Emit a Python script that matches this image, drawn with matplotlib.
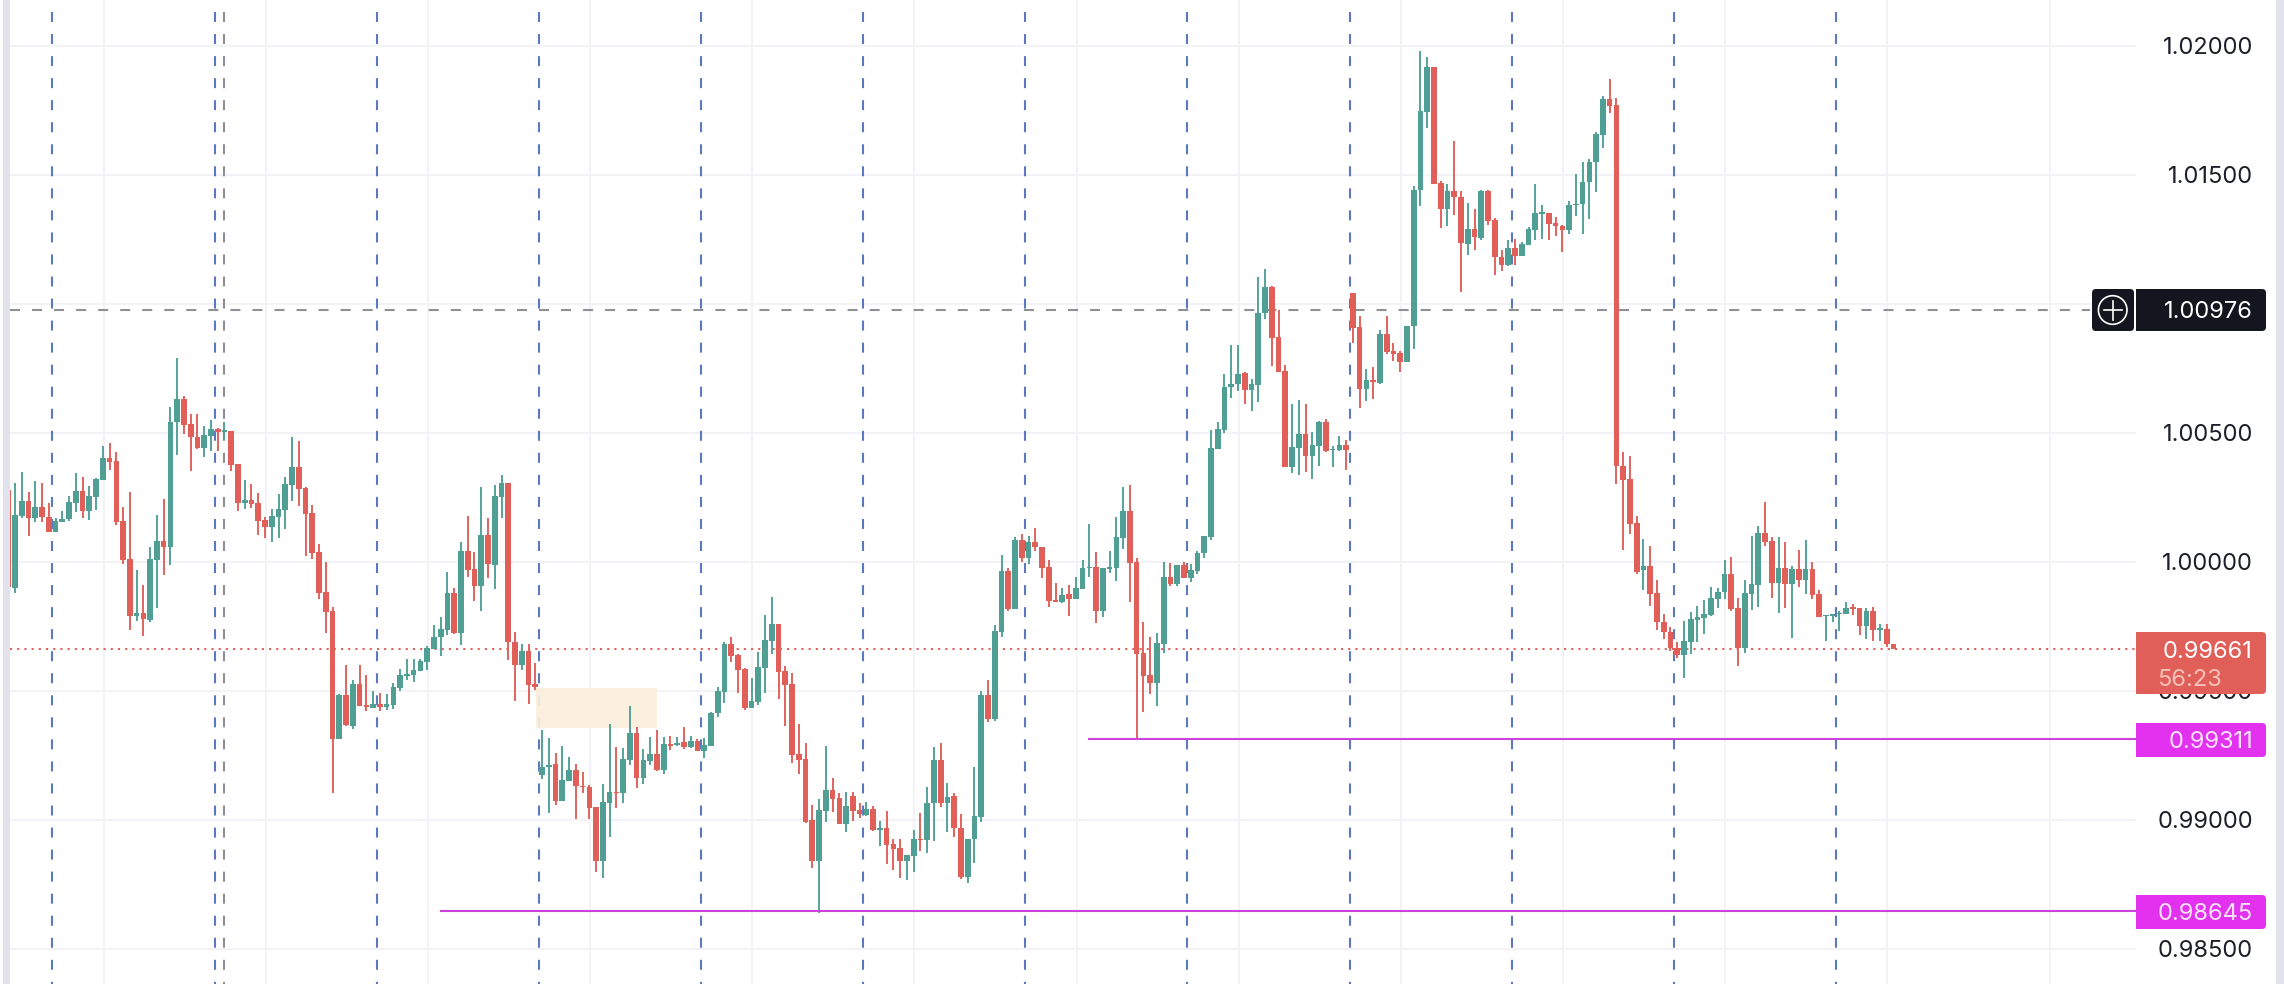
import numpy as np
import matplotlib
matplotlib.use("Agg")
import matplotlib.pyplot as plt
from matplotlib.patches import FancyBboxPatch, Rectangle, Circle
from matplotlib.transforms import Affine2D

W, H = 2284, 984

# Prices are stored in 1e-5 units (100000 = 1.00000)
highs = [
100282,100304,100349,100271,100311,100306,100226,100168,100198,100256,
100342,100327,100295,100323,100448,100459,100424,100211,100269,99968,
99910,100056,100181,100243,100598,100788,100641,100571,100571,100526,
100549,100517,100540,100506,100377,100317,100301,100265,100174,100203,
100262,100327,100485,100468,100291,100220,100068,99997,99826,99487,
99598,99541,99598,99561,99497,99490,99487,99528,99583,99621,
99621,99621,99673,99755,99784,99959,99897,100075,100177,100036,
100291,100168,100296,100336,100304,99726,99681,99681,99606,99348,
99317,99257,99286,99243,99216,99183,99134,99050,99138,99371,
99280,99276,99442,99360,99273,99319,99348,99319,99324,99322,
99359,99324,99311,99315,99419,99515,99690,99707,99642,99587,
99550,99649,99793,99862,99758,99597,99567,99371,99296,99057,
99079,99286,99160,99102,99109,99109,99063,99067,99053,98996,
99035,98925,98925,98863,98960,99025,99125,99280,99296,99141,
99102,99021,98863,99203,99499,99541,99755,100026,99975,100097,
100107,100099,100132,100058,100006,99916,99897,99910,99942,100006,
100145,100036,99975,100041,100172,100288,100296,100013,99765,99707,
99722,99999,99994,99987,99997,99990,100041,100099,100510,100540,
100727,100840,100840,100734,100707,101102,101133,101068,100975,100762,
100611,100627,100611,100504,100545,100553,100450,100487,100472,101043,
100952,100747,100753,100898,100952,100846,100817,100913,101455,101981,
101956,101917,101477,101465,101632,101438,101390,101368,101442,101442,
101332,101209,101248,101251,101240,101297,101465,101384,101353,101336,
101306,101398,101504,101549,101561,101665,101806,101871,101797,100424,
100408,100179,100088,100060,99928,99798,99746,99688,99770,99804,
99830,99853,99902,99897,100007,100020,99861,99931,100098,100140,
100232,100095,100096,100077,99984,100047,100085,99998,99889,99794,
99799,99808,99843,99837,99821,99819,99824,99757,99757,99682]

lows = [
99903,99880,100171,100101,100152,100152,100116,100116,100152,100158,
100194,100168,100162,100200,100318,100355,100142,99991,99735,99770,
99712,99767,99822,99948,99987,100413,100495,100351,100437,100407,
100430,100430,100472,100353,100198,100204,100208,100103,100090,100078,
100092,100127,100235,100216,100022,100010,99857,99725,99105,99314,
99364,99353,99442,99422,99432,99422,99426,99430,99500,99541,
99535,99578,99580,99660,99634,99716,99720,99677,99939,99848,
99809,99935,99894,100168,99619,99461,99580,99448,99503,99156,
99027,99057,99074,99151,99003,99105,99004,98798,98775,98934,
99044,99066,99212,99121,99138,99212,99190,99177,99270,99286,
99274,99276,99265,99239,99286,99399,99453,99612,99492,99425,
99434,99446,99492,99642,99468,99363,99218,99177,98986,98811,
98637,98992,99031,98983,98953,98995,99005,99016,98956,98899,
98828,98805,98775,98766,98798,98879,98872,98919,99050,98953,
98934,98769,98753,98833,98992,99380,99382,99709,99810,99817,
100000,99990,100043,99935,99826,99845,99841,99791,99855,99894,
99939,99761,99787,99955,99926,100049,99845,99309,99419,99487,
99442,99647,99906,99906,99937,99922,99952,100016,100084,100438,
100500,100636,100663,100612,100585,100620,100941,100758,100736,100366,
100345,100336,100349,100320,100371,100426,100366,100430,100355,100846,
100597,100623,100630,100689,100805,100779,100734,100775,100826,101377,
101680,101465,101292,101300,101342,101044,101187,101207,101248,101306,
101110,101125,101147,101151,101186,101229,101245,101252,101245,101264,
101199,101271,101341,101271,101329,101434,101605,101740,100302,100044,
100106,99954,99892,99829,99737,99702,99653,99628,99550,99644,
99687,99718,99791,99821,99856,99808,99594,99648,99811,99824,
100060,99860,99803,99819,99706,99902,99873,99856,99786,99693,
99767,99731,99799,99793,99716,99702,99693,99693,99669,99661]

opens = [
100278,99899,100177,100235,100169,100211,100174,100116,100154,100167,
100229,100273,100198,100252,100318,100402,100389,100156,100010,99791,
99800,99774,100006,100079,100058,100540,100629,100534,100485,100441,
100488,100513,100504,100506,100377,100229,100239,100227,100162,100136,
100174,100200,100298,100367,100287,100187,100036,99882,99809,99314,
99483,99364,99526,99444,99434,99447,99438,99444,99510,99557,
99561,99578,99612,99663,99709,99735,99877,99725,100041,99970,
99907,100103,99987,100252,100304,99690,99599,99655,99525,99173,
99205,99216,99074,99151,99192,99132,99125,99048,98841,99066,
99106,99105,99231,99335,99163,99226,99255,99192,99293,99288,
99301,99280,99304,99267,99286,99412,99495,99681,99638,99584,
99434,99456,99589,99693,99758,99576,99526,99253,99235,98999,
98841,99035,99115,99083,98983,99092,99036,99019,99040,98960,
98966,98906,98889,98841,98860,98925,98921,99063,99231,99066,
99092,98966,98779,98924,99012,99483,99389,99729,99965,99817,
100084,100013,100075,100057,99979,99849,99845,99873,99855,99894,
99974,99978,99810,99973,99974,100092,100196,99999,99645,99561,
99531,99680,99939,99912,99986,99935,99965,100032,100094,100438,
100510,100676,100687,100730,100667,100685,100963,101066,100870,100739,
100368,100442,100495,100411,100450,100543,100432,100433,100451,101040,
100908,100669,100704,100694,100882,100815,100808,100775,100912,101439,
101744,101917,101468,101366,101437,101413,101233,101291,101255,101438,
101326,101181,101151,101216,101186,101229,101287,101349,101351,101314,
101302,101284,101382,101385,101470,101548,101655,101793,101771,100369,
100320,100150,99966,99982,99878,99768,99729,99664,99638,99690,
99775,99783,99794,99856,99881,99953,99819,99664,99876,99910,
100111,100080,99917,99976,99914,99971,99930,99972,99874,99788,
99790,99796,99799,99821,99819,99750,99809,99737,99739,99680]

closes = [
99903,100181,100235,100171,100211,100174,100116,100156,100167,100230,
100273,100198,100253,100320,100402,100385,100155,100006,99791,99800,
99776,100010,100079,100058,100540,100629,100530,100485,100441,100490,
100513,100504,100506,100375,100229,100239,100225,100159,100136,100177,
100203,100301,100367,100282,100185,100035,99877,99805,99314,99485,
99366,99526,99442,99438,99447,99435,99447,99513,99559,99565,
99580,99615,99664,99709,99739,99877,99722,100041,99968,99907,
100103,99990,100253,100304,99690,99599,99652,99522,99515,99205,
99213,99074,99154,99192,99130,99125,99047,98841,99067,99106,
99102,99235,99336,99163,99231,99255,99192,99293,99286,99298,
99280,99305,99267,99288,99413,99497,99681,99634,99580,99434,
99459,99590,99696,99758,99574,99522,99251,99231,98992,98841,
99036,99115,99081,98983,99054,99035,99023,99040,98960,98965,
98903,98888,98841,98863,98925,98921,99063,99231,99063,99089,
98966,98776,98925,99014,99483,99389,99731,99964,99817,100084,
100013,100075,100056,99977,99848,99845,99871,99855,99897,99975,
99981,99810,99975,99981,100094,100196,99996,99642,99558,99531,
99683,99939,99913,99986,99937,99968,100035,100099,100439,100513,
100676,100687,100726,100667,100687,100963,101063,100868,100736,100368,
100443,100495,100411,100451,100543,100429,100437,100451,100433,100906,
100669,100704,100698,100882,100813,100805,100775,100912,101442,101748,
101917,101465,101366,101437,101413,101234,101291,101257,101438,101322,
101180,101151,101217,101186,101233,101289,101351,101353,101310,101300,
101284,101382,101388,101472,101549,101659,101793,101767,100370,100318,
100147,99962,99982,99876,99768,99728,99664,99638,99693,99778,
99785,99798,99860,99884,99951,99816,99664,99878,99912,100111,
100078,99918,99976,99914,99972,99930,99972,99871,99786,99793,
99796,99803,99821,99817,99750,99809,99737,99741,99680,99661]

price_ticks = [1.02, 1.015, 1.01, 1.005, 1.0, 0.995, 0.99, 0.985]
tick_labels = ["1.02000", "1.01500", "1.01000", "1.00500", "1.00000", "0.99500", "0.99000", "0.98500"]
time_grid = [14.1 + 24 * k for k in range(13)]
session_lines = [6.5, 30.6, 54.55, 78.55, 102.5, 126.5, 150.5, 174.5, 198.5, 222.5, 246.5, 270.5]
grey_session_line = 32.0
crosshair_price = 1.00976
last_price = 0.99661
level_prices = [0.99311, 0.98645]
level_labels = ["0.99311", "0.98645"]
level_starts = [160.0, 64.0]
zone_x = [78.1, 96.0]
zone_prices = [0.99509, 0.99357]

TEAL = "#4F9F95"
RED = "#E05F58"
BLUE = "#5B78C2"
GRID = "#F3F3F7"
MAG_LINE = "#CE42DC"
MAG_BOX = "#E232F0"
DARK = "#14161F"
STRIP = "#E2E2EC"
PX_PER_UNIT = 25800

plt.rcParams["font.family"] = ["Inter", "DejaVu Sans"]

fig = plt.figure(figsize=(W / 100, H / 100), dpi=100, facecolor="white")
ax = fig.add_axes([0, 0, 1, 1])
ax.set_xlim(-8.24 / 6.757, (W - 8.24) / 6.757)
ax.set_ylim(1 - (H - 561.7) / PX_PER_UNIT, 1 + 561.7 / PX_PER_UNIT)
ax.axis("off")

o = np.array(opens) / 1e5
h = np.array(highs) / 1e5
l = np.array(lows) / 1e5
c = np.array(closes) / 1e5
x = np.arange(len(o))
cols = np.where(c >= o, TEAL, RED)

right_end = (2136 - 8.24) / 6.757
ymin, ymax = ax.get_ylim()
dash_top = ymax - 12 / PX_PER_UNIT
dash_on_off = (4.8, 5.78)

# grid
ax.hlines(price_ticks, 0.2, right_end, color=GRID, lw=1.4, zorder=1)
ax.vlines(time_grid, ymin, ymax, color=GRID, lw=1.5, zorder=1)

# session lines
for s in session_lines:
    ax.plot([s, s], [dash_top, ymin], color=BLUE, lw=1.5, dashes=dash_on_off, zorder=2)
ax.plot([grey_session_line] * 2, [dash_top, ymin], color="#8E8F96", lw=1.5, dashes=dash_on_off, zorder=2)

# zone
ax.fill_between(zone_x, zone_prices[1], zone_prices[0], color="#FBEFDC", alpha=0.92, lw=0, zorder=3)

# levels
ax.plot([0.2, 2090 / 6.757 - 1.22], [crosshair_price] * 2, color="#8F9096", lw=1.5, dashes=dash_on_off, zorder=3)
ax.plot([0.2, right_end], [last_price] * 2, color=RED, lw=1.4, dashes=(1.1, 2.6), zorder=3)
for p, s in zip(level_prices, level_starts):
    ax.plot([s, right_end], [p, p], color=MAG_LINE, lw=1.5, zorder=6)

# candles
ax.vlines(x, l, h, colors=cols, lw=1.35, zorder=4)
ax.bar(x, np.maximum(np.abs(c - o), 0.00006), bottom=np.minimum(o, c), width=0.84,
       color=cols, lw=0, zorder=5)

# pixel-space helpers for the price-scale furniture
pix = Affine2D().scale(1, -1).translate(0, H)


def label_box(x0, y0, x1, y1, color, round_left=False, z=8):
    r = 4
    box = FancyBboxPatch((x0 + r, y0 + r), x1 - x0 - 2 * r, y1 - y0 - 2 * r,
                         boxstyle=f"round,pad={r},rounding_size={r}", fc=color, ec="none",
                         transform=pix, zorder=z, clip_on=False)
    fig.add_artist(box)
    if not round_left:
        fig.add_artist(Rectangle((x0, y0), 10, y1 - y0, fc=color, ec="none", transform=pix, zorder=z))


def label_text(ypx, s, color="white", z=9, size=17):
    fig.text(2253 / W, 1 - ypx / H, s, ha="right", va="center_baseline", color=color,
             fontsize=size, zorder=z)


for p, s in zip(price_ticks, tick_labels):
    if s == "1.01000":
        continue
    label_text(561.7 + (1 - p) * PX_PER_UNIT, s, color="#1C1F28", z=7)

# strips at the edges
fig.add_artist(Rectangle((3, 0), 7, H, fc=STRIP, ec="none", transform=pix, zorder=10))
fig.add_artist(Rectangle((0, 0), 3, H, fc="white", ec="none", transform=pix, zorder=10))
fig.add_artist(Rectangle((2276, 0), 8, H, fc=STRIP, ec="none", transform=pix, zorder=10))

# crosshair badge
label_box(2092, 289, 2134, 331, DARK, round_left=True)
label_box(2136, 289, 2266, 331, DARK)
fig.add_artist(Circle((2112.7, 310), 14.3, fc="none", ec="white", lw=1.2, transform=pix, zorder=9))
fig.add_artist(plt.Line2D([2103.5, 2122], [310, 310], color="white", lw=1.2, transform=pix, zorder=9))
fig.add_artist(plt.Line2D([2112.7, 2112.7], [301, 319.5], color="white", lw=1.2, transform=pix, zorder=9))
label_text(310, "1.00976")

# last price
label_box(2136, 632, 2266, 694, RED)
label_text(649, "0.99661")
fig.text(2157 / W, 1 - 677 / H, "56:23", ha="left", va="center_baseline", color="#F8C2BB", fontsize=17, zorder=9)

# horizontal levels
for ypx0, ypx1, s in [(723, 757, level_labels[0]), (895, 929, level_labels[1])]:
    label_box(2136, ypx0, 2266, ypx1, MAG_BOX)
    label_text((ypx0 + ypx1) / 2, s, color="#FBE3FD")

fig.savefig("out.png", dpi=100, facecolor="white")
